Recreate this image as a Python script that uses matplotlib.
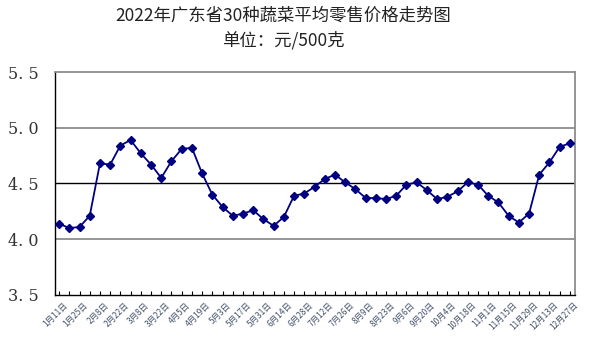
import numpy as np
import matplotlib.pyplot as plt

plt.rcParams['font.family'] = ['Noto Sans CJK SC', 'DejaVu Sans']

# 每周价格 (元/500克)，1月11日起至12月27日
weeks = ['1月11日', '1月18日', '1月25日', '2月1日', '2月8日', '2月15日', '2月22日', '3月1日',
         '3月8日', '3月15日', '3月22日', '3月29日', '4月5日', '4月12日', '4月19日', '4月26日',
         '5月3日', '5月10日', '5月17日', '5月24日', '5月31日', '6月7日', '6月14日', '6月21日',
         '6月28日', '7月5日', '7月12日', '7月19日', '7月26日', '8月2日', '8月9日', '8月16日',
         '8月23日', '8月30日', '9月6日', '9月13日', '9月20日', '9月27日', '10月4日', '10月11日',
         '10月18日', '10月25日', '11月1日', '11月8日', '11月15日', '11月22日', '11月29日', '12月6日',
         '12月13日', '12月20日', '12月27日']
prices = [4.14, 4.10, 4.11, 4.21, 4.68, 4.67, 4.84, 4.89, 4.77, 4.67,
          4.55, 4.70, 4.81, 4.82, 4.59, 4.40, 4.29, 4.21, 4.23, 4.26,
          4.18, 4.12, 4.20, 4.39, 4.41, 4.47, 4.54, 4.58, 4.51, 4.45,
          4.37, 4.37, 4.36, 4.39, 4.49, 4.51, 4.44, 4.36, 4.38, 4.43,
          4.51, 4.49, 4.39, 4.33, 4.21, 4.15, 4.23, 4.58, 4.69, 4.83,
          4.86]
yticks = [3.5, 4.0, 4.5, 5.0, 5.5]

fig = plt.figure(figsize=(5.99, 3.47), dpi=100)
ax = fig.add_axes([0.0918, 0.1499, 0.8682, 0.6426])

x = np.arange(len(prices))
ax.plot(x, prices, color='#000080', lw=1.3, marker='D', ms=4.5,
        markeredgecolor='#000080', zorder=3)

ax.set_xlim(-0.4, len(prices) - 0.5)
ax.set_ylim(3.5, 5.5)

# 网格线
for v in [4.0, 5.0]:
    ax.axhline(v, color='#8c8c8c', lw=1.3, zorder=1)
ax.axhline(4.5, color='black', lw=1.0, zorder=1)

ax.set_yticks(yticks)
ax.set_yticklabels([('%.1f' % v).replace('.', '. ') for v in yticks],
                   fontfamily='DejaVu Serif', fontsize=11.5, color='#333333')
ax.tick_params(axis='y', length=0, pad=12)

ax.set_xticks(x)
ax.set_xticklabels([])
ax.tick_params(axis='x', direction='in', length=3, width=0.8)
for i in range(0, len(weeks), 2):
    ax.text(i + 0.4, 3.45, weeks[i], rotation=45, rotation_mode='anchor',
            ha='right', va='top', fontsize=6, color='#44506a')

for s in ['top', 'right']:
    ax.spines[s].set_color('#8c8c8c')
    ax.spines[s].set_linewidth(1.3)
for s in ['left', 'bottom']:
    ax.spines[s].set_color('black')
    ax.spines[s].set_linewidth(1.0)

fig.text(0.473, 0.955, '2022年广东省30种蔬菜平均零售价格走势图', ha='center', va='center',
         fontsize=12.5, color='#222222')
fig.text(0.473, 0.885, '单位：元/500克', ha='center', va='center',
         fontsize=12.5, color='#222222')

fig.savefig('out.png', dpi=100)
